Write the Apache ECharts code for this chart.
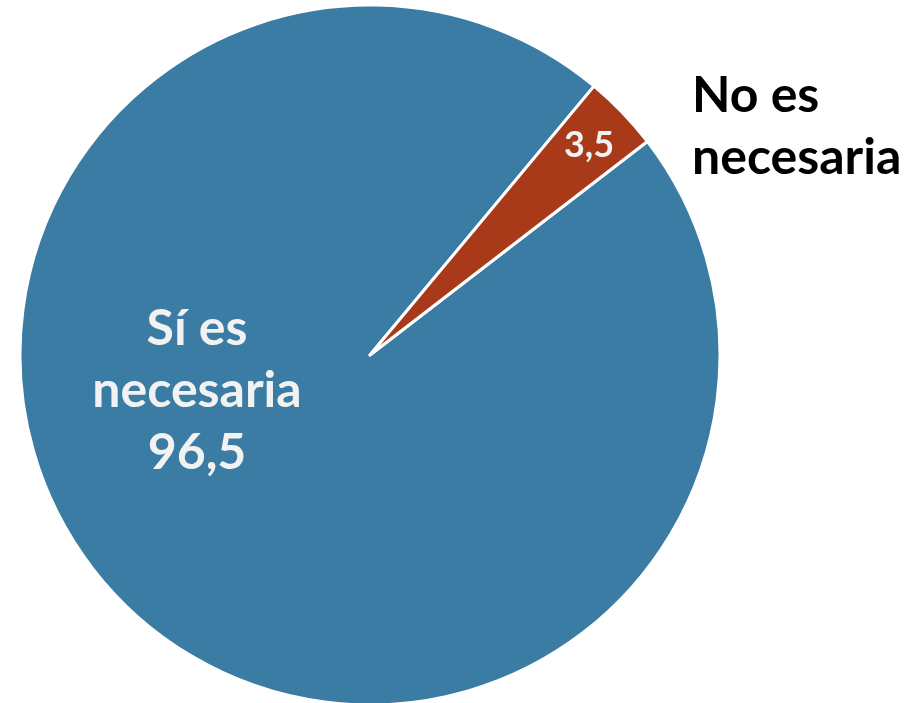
<!DOCTYPE html>
<html>
<head>
<meta charset="utf-8">
<script src="https://cdn.jsdelivr.net/npm/echarts@6/dist/echarts.min.js"></script>
<style>html,body{margin:0;padding:0;background:#fff;}#c{width:910px;height:703px;}</style>
</head>
<body>
<div id="c"></div>
<script>
const categories = ['Sí es necesaria', 'No es necesaria'];
const values = [96.5, 3.5];
const colors = ['#3a7ca3', '#a83a1a'];

const fmt = v => String(v).replace('.', ',');
const data = categories.map((c, i) => ({ name: c, value: values[i], itemStyle: { color: colors[i] } }));
const FONT = 'Lato';

const chart = echarts.init(document.getElementById('c'));
chart.setOption({
  animation: false,
  series: [
    {
      type: 'pie',
      center: [370, 355],
      radius: 350,
      startAngle: 37.6,
      clockwise: true,
      data: data,
      itemStyle: { borderColor: '#ffffff', borderWidth: 3 },
      label: {
        show: true,
        position: 'inside',
        color: '#f2f2f2',
        fontFamily: FONT,
        fontWeight: 'bold',
        fontSize: 50,
        lineHeight: 62,
        formatter: p => p.dataIndex === 0 ? p.name.replace(' es ', ' es\n') + '\n' + fmt(p.value) : fmt(p.value)
      },
      labelLine: { show: false },
      labelLayout: p => p.dataIndex === 0
        ? { x: 197, y: 391, align: 'center', verticalAlign: 'middle' }
        : { x: 589, y: 145, align: 'center', verticalAlign: 'middle', fontSize: 36 }
    },
    {
      type: 'pie',
      silent: true,
      center: [370, 355],
      radius: 350,
      startAngle: 37.6,
      clockwise: true,
      data: data.map(d => ({ name: d.name, value: d.value, itemStyle: { color: 'rgba(0,0,0,0)' } })),
      itemStyle: { borderWidth: 0 },
      label: {
        show: true,
        position: 'inside',
        color: '#000000',
        fontFamily: FONT,
        fontWeight: 'bold',
        fontSize: 50,
        lineHeight: 62,
        formatter: p => p.dataIndex === 1 ? p.name.replace(' es ', ' es\n') : ''
      },
      labelLine: { show: false },
      labelLayout: p => p.dataIndex === 1
        ? { x: 692, y: 127, align: 'left', verticalAlign: 'middle' }
        : {}
    }
  ]
});
</script>
</body>
</html>
